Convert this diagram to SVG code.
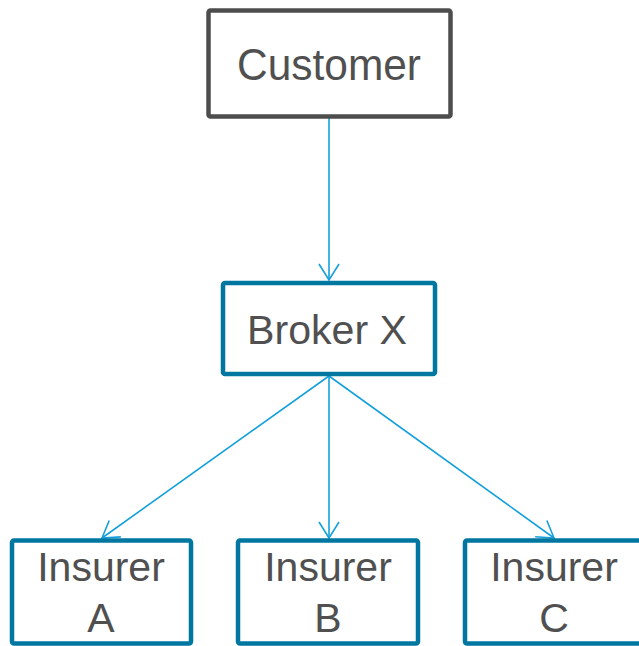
<svg xmlns="http://www.w3.org/2000/svg" width="639" height="646" viewBox="0 0 639 646">
<style>
.t{font-family:"Liberation Sans",Arial,sans-serif;fill:#505050;text-anchor:middle}
.blue{fill:#fff;stroke:#0077a0;stroke-width:4.5}
.grey{fill:#fff;stroke:#4d4d4d;stroke-width:4.5}
.c{stroke:#14a0dc;stroke-width:1.6;fill:none}
</style>
<defs>
<marker id="ah" markerUnits="userSpaceOnUse" viewBox="-18 -12 20 24" refX="0" refY="0" markerWidth="20" markerHeight="24" orient="auto">
<path d="M-16,-10 L0,0 L-16,10" fill="none" stroke="#14a0dc" stroke-width="1.6"/>
</marker>
</defs>
<g id="connectors">
<line class="c" x1="329" y1="118" x2="329" y2="280" marker-end="url(#ah)"/>
<line class="c" x1="329" y1="376" x2="102" y2="538" marker-end="url(#ah)"/>
<line class="c" x1="329" y1="376" x2="329" y2="538" marker-end="url(#ah)"/>
<line class="c" x1="329" y1="376" x2="554" y2="538" marker-end="url(#ah)"/>
</g>
<g id="customer">
<rect class="grey" x="208.5" y="10.5" width="242" height="106" rx="2"/>
<text class="t" x="329" y="80" font-size="44" textLength="184" lengthAdjust="spacingAndGlyphs">Customer</text>
</g>
<g id="broker">
<rect class="blue" x="223" y="283" width="212" height="91" rx="2"/>
<text class="t" x="327" y="344" font-size="40" textLength="160" lengthAdjust="spacingAndGlyphs">Broker X</text>
</g>
<g id="insurerA">
<rect class="blue" x="12" y="540.5" width="179" height="103" rx="2"/>
<text class="t" x="101" y="581" font-size="41">Insurer</text>
<text class="t" x="101" y="632" font-size="41">A</text>
</g>
<g id="insurerB">
<rect class="blue" x="238" y="540.5" width="180" height="103" rx="2"/>
<text class="t" x="328" y="581" font-size="41">Insurer</text>
<text class="t" x="328" y="632" font-size="41">B</text>
</g>
<g id="insurerC">
<rect class="blue" x="465" y="540.5" width="180" height="103" rx="2"/>
<text class="t" x="554" y="581" font-size="41">Insurer</text>
<text class="t" x="554" y="632" font-size="41">C</text>
</g>
</svg>
